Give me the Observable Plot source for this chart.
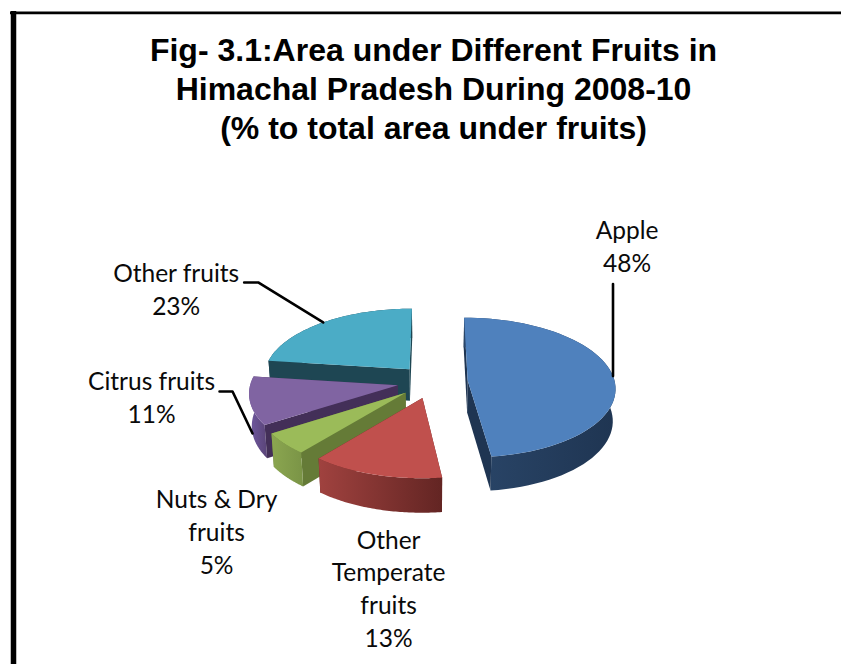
<!DOCTYPE html>
<html><head><meta charset="utf-8">
<script src="https://cdn.jsdelivr.net/npm/d3@7"></script>
<script src="https://cdn.jsdelivr.net/npm/@observablehq/plot@0.6"></script>
<style>html,body{margin:0;padding:0;background:#fff;overflow:hidden}svg{display:block}</style>
</head><body><div id="chart"></div>
<script>
// Data
const categories = ["Apple", "Other Temperate fruits", "Nuts & Dry fruits", "Citrus fruits", "Other fruits"];
const shares = [48, 13, 5, 11, 23];
const labelLines = [["Apple","48%"],["Other","Temperate","fruits","13%"],["Nuts & Dry","fruits","5%"],["Citrus fruits","11%"],["Other fruits","23%"]];
const titleLines = ["Fig- 3.1:Area under Different Fruits in","Himachal Pradesh During 2008-10","(% to total area under fruits)"];

// Styling
const topColors  = ["#4F81BD","#C0504D","#9BBB59","#8064A2","#4BACC6"];
const sideColors = ["#1F3552","#632523","#657B37","#432F58","#1E4653"];
const arcStops   = [["#2A4669","#1F3552"],["#A0423F","#632523"],["#8BA650","#7A9446"],["#7059A0","#5A4478"],["#1E4653","#1E4653"]];

// Projection of the tilted pie (layout constants)
const cx = 432, cy = 381, A = 147, B = 70, k = 0.1, explode = 0.24, depth = 32, shrink = 0.985;
const project = (U, V, low) => {
  const s = (1 + k * V) * (low ? shrink : 1);
  return {x: cx + A * U * s, y: cy + B * V * s + (low ? depth * (1 + k * V) : 0)};
};

// Slices from the values
const total = d3.sum(shares);
let acc = 0;
const slices = shares.map((v, i) => {
  const a0 = acc / total * 2 * Math.PI; acc += v;
  const a1 = acc / total * 2 * Math.PI;
  const b = (a0 + a1) / 2;
  return {i, a0, a1, b, u0: explode * Math.sin(b), v0: -explode * Math.cos(b)};
});
const rim = (s, a, low) => project(s.u0 + Math.sin(a), s.v0 - Math.cos(a), low);
const apex = (s, low) => project(s.u0, s.v0, low);
const arcAngles = s => d3.range(0, 61).map(j => s.a0 + (s.a1 - s.a0) * j / 60);

const polys = [];
const add = (id, pts, fill) => pts.forEach(p => polys.push({id, x: p.x, y: p.y, fill}));
// Back to front: other fruits, citrus, nuts, temperate, apple; walls sorted by depth within a slice
[4, 3, 2, 1, 0].forEach(i => {
  const s = slices[i], as = arcAngles(s);
  const sideDepth = a => s.v0 - Math.cos(a) / 2;
  const walls = [
    {depth: sideDepth(s.a0), id: `s${i}a`, fill: sideColors[i], pts: [apex(s,false), rim(s,s.a0,false), rim(s,s.a0,true), apex(s,true)]},
    {depth: sideDepth(s.a1), id: `s${i}b`, fill: sideColors[i], pts: [apex(s,false), rim(s,s.a1,false), rim(s,s.a1,true), apex(s,true)]},
    {depth: s.v0 - Math.cos(s.b), id: `s${i}c`, fill: `url(#arc${i})`, pts: [...as.map(a => rim(s,a,false)), ...as.slice().reverse().map(a => rim(s,a,true))]}
  ];
  d3.sort(walls, w => w.depth).forEach(w => add(w.id, w.pts, w.fill));
  add(`s${i}t`, [apex(s,false), ...as.map(a => rim(s,a,false))], topColors[i]);
});

// Labels and leaders hang off the slice geometry
const mid = slices.map(s => rim(s, s.b, false));
const midLow = slices.map(s => rim(s, s.b, true));
const lineGap = 32.7;
const labelAt = [
  {x: mid[0].x + 14, y: mid[0].y - 145},
  {x: mid[1].x + 13, y: mid[1].y + 66},
  {x: mid[2].x - 68, y: mid[2].y + 57},
  {x: midLow[3].x - 101, y: midLow[3].y - 51},
  {x: mid[4].x - 147, y: mid[4].y - 48}
];
const labels = labelLines.flatMap((ls, i) => ls.map((t, j) => ({t, x: labelAt[i].x, y: labelAt[i].y + j * lineGap})));
const leaders = [
  [{...mid[0]}, {x: mid[0].x, y: mid[0].y - 92}],
  [{...midLow[3]}, {x: midLow[3].x - 20, y: midLow[3].y - 42}, {x: midLow[3].x - 33, y: midLow[3].y - 42}],
  [{...mid[4]}, {x: mid[4].x - 65, y: mid[4].y - 40}, {x: mid[4].x - 79, y: mid[4].y - 40}]
].flatMap((l, id) => l.map(p => ({...p, id})));

const defs = () => {
  const svg = d3.create("svg:g");
  const d = svg.append("defs");
  arcStops.forEach((st, i) => {
    const g = d.append("linearGradient").attr("id", `arc${i}`).attr("x1", 0).attr("x2", 1).attr("y1", 0).attr("y2", 0);
    g.append("stop").attr("offset", "0%").attr("stop-color", st[0]);
    g.append("stop").attr("offset", "100%").attr("stop-color", st[1]);
  });
  return svg.node();
};

const W = 841, H = 664;
const chart = Plot.plot({
  width: W, height: H, margin: 0,
  x: {domain: [0, W], range: [0, W], axis: null},
  y: {domain: [0, H], range: [0, H], axis: null},
  marks: [
    defs,
    Plot.line(polys, {x: "x", y: "y", z: "id", fill: "fill", stroke: null, curve: "linear-closed"}),
    Plot.line(leaders, {x: "x", y: "y", z: "id", stroke: "#000", strokeWidth: 2.6, curve: "linear"}),
    Plot.text(labels, {x: "x", y: "y", text: "t", fontFamily: "Lato", fontSize: 24.5, fill: "#0a0a0a", textAnchor: "middle"}),
    Plot.text(titleLines, {x: () => 433, y: (d, i) => 50 + i * 39, text: d => d, fontFamily: "Liberation Sans", fontWeight: "bold", fontSize: 32, fill: "#000", textAnchor: "middle"}),
    Plot.ruleX([13], {y1: 11, y2: H, stroke: "#000", strokeWidth: 5.5}),
    Plot.ruleY([12.4], {x1: 10, x2: W, stroke: "#000", strokeWidth: 2.8})
  ]
});
document.getElementById("chart").appendChild(chart);
</script></body></html>
